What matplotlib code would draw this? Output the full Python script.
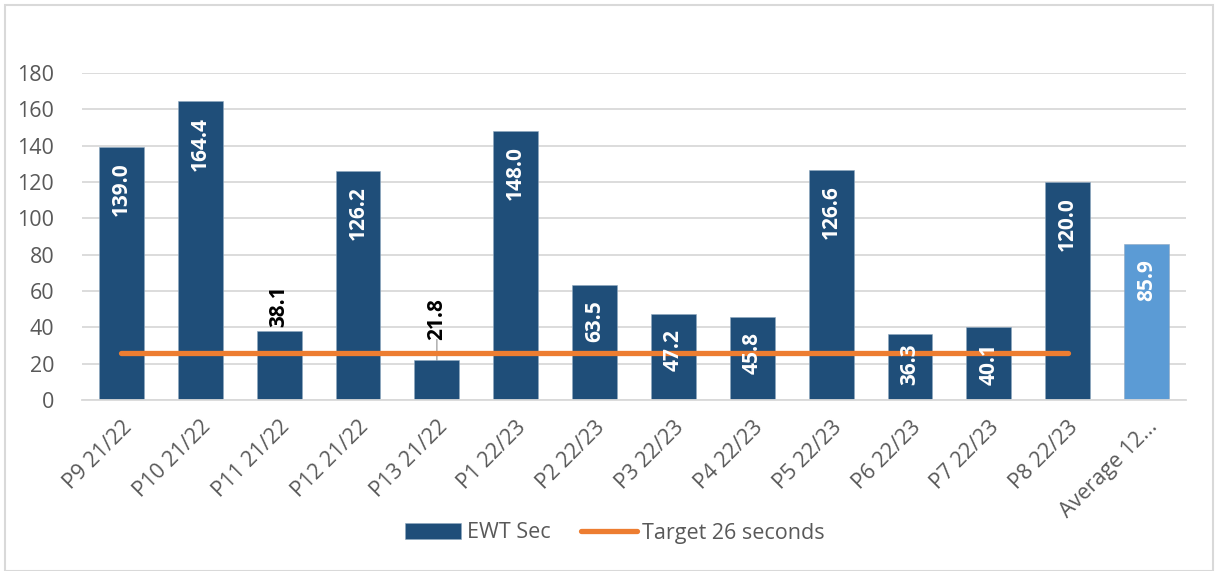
import matplotlib
matplotlib.use("Agg")
import matplotlib.pyplot as plt
from matplotlib.patches import Rectangle
import numpy as np

categories = ["P9 21/22", "P10 21/22", "P11 21/22", "P12 21/22", "P13 21/22",
              "P1 22/23", "P2 22/23", "P3 22/23", "P4 22/23", "P5 22/23",
              "P6 22/23", "P7 22/23", "P8 22/23", "Average 12..."]
ewt_values = [139.0, 164.4, 38.1, 126.2, 21.8, 148.0, 63.5, 47.2, 45.8,
              126.6, 36.3, 40.1, 120.0, 85.9]
target_values = [26] * 13 + [np.nan]
yticks = [0, 20, 40, 60, 80, 100, 120, 140, 160, 180]

# label placement modes (style only)
label_modes = ["in_end", "in_end", "out_end", "in_end", "out_leader", "in_end",
               "in_end", "in_end", "in_end", "in_end", "in_base", "in_base",
               "in_end", "in_end"]

plt.rcParams['font.family'] = ['Open Sans', 'DejaVu Sans']

W, H = 1223, 571
fig = plt.figure(figsize=(W / 100, H / 100), dpi=100)
ax = fig.add_axes([82 / W, 1 - 400 / H, (1186 - 82) / W, (400 - 73) / H])

dark = "#1F4E79"
light = "#5B9BD5"
colors = [dark] * 13 + [light]
x = np.arange(len(categories))
bars = ax.bar(x, ewt_values, width=0.57, color=colors, zorder=2,
              edgecolor="#8FA8C0", linewidth=0.4, label="EWT Sec")
line, = ax.plot(x, target_values, color="#ED7D31", linewidth=3.8,
                solid_capstyle="round", zorder=3, label="Target 26 seconds")

ax.set_xlim(-0.5, len(categories) - 0.5)
ax.set_ylim(0, 180)
ax.set_yticks(yticks)
ax.set_yticklabels([str(v) for v in yticks], fontsize=15.5, color="#595959")
ax.set_xticks(x)
ax.set_xticklabels(categories, rotation=45, ha="right", rotation_mode="anchor",
                   fontsize=15.5, color="#595959")
for lbl in ax.get_xticklabels():
    lbl.set_x(lbl.get_position()[0])
ax.tick_params(axis="both", length=0)
ax.tick_params(axis="y", pad=20)
ax.tick_params(axis="x", pad=12)
ax.grid(axis="y", color="#D9D9D9", linewidth=1.3, zorder=0)
ax.set_axisbelow(True)
for s in ["top", "right", "left"]:
    ax.spines[s].set_visible(False)
ax.spines["bottom"].set_color("#D9D9D9")
ax.spines["bottom"].set_linewidth(1.3)

fs_lab = 15
for xi, v, mode in zip(x, ewt_values, label_modes):
    txt = f"{v:.1f}"
    if mode == "in_end":
        ax.annotate(txt, (xi, v), xytext=(0, -11), textcoords="offset points",
                    rotation=90, ha="center", va="top", color="white",
                    fontsize=fs_lab, fontweight="bold", zorder=4)
    elif mode == "in_base":
        ax.annotate(txt, (xi, 0), xytext=(0, 11), textcoords="offset points",
                    rotation=90, ha="center", va="bottom", color="white",
                    fontsize=fs_lab, fontweight="bold", zorder=4)
    elif mode == "out_end":
        ax.annotate(txt, (xi, v), xytext=(0, 3), textcoords="offset points",
                    rotation=90, ha="center", va="bottom", color="black",
                    fontsize=fs_lab, fontweight="bold", zorder=4)
    else:
        ax.annotate(txt, (xi, v), xytext=(0, 15), textcoords="offset points",
                    rotation=90, ha="center", va="bottom", color="black",
                    fontsize=fs_lab, fontweight="bold", zorder=4)
        ax.annotate("", (xi, v), xytext=(0, 15), textcoords="offset points",
                    arrowprops=dict(arrowstyle="-", color="#A6A6A6", lw=1.0,
                                    shrinkA=0, shrinkB=0), zorder=1)

leg = fig.legend([bars, line], ["EWT Sec", "Target 26 seconds"],
                 loc="center", bbox_to_anchor=(615 / W, 1 - 533 / H), ncol=2,
                 frameon=False, fontsize=15.5, handlelength=2.6, handleheight=0.75,
                 columnspacing=1.4, handletextpad=0.25)
for t in leg.get_texts():
    t.set_color("#595959")

fig.add_artist(Rectangle((5 / W, 0 / H), (1213 - 5) / W, (566 - 0) / H,
                         transform=fig.transFigure, fill=False,
                         edgecolor="#D9D9D9", linewidth=1.5))

fig.savefig("out.png", dpi=100)
